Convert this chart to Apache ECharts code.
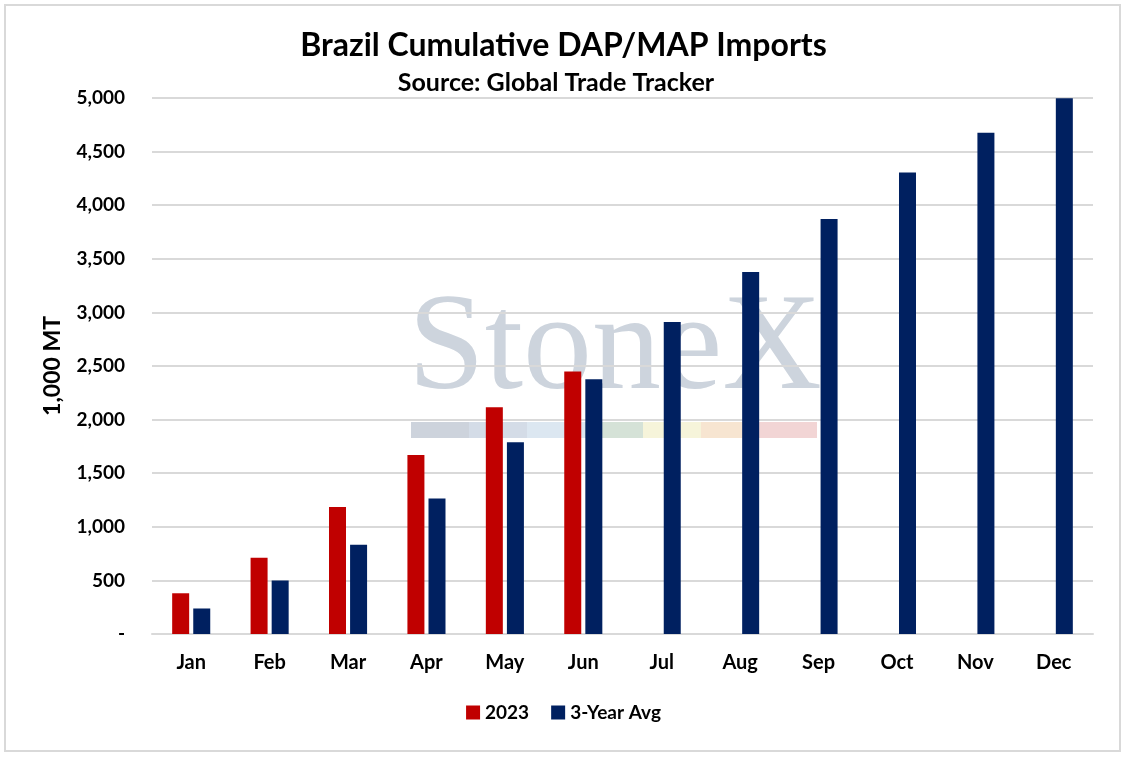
<!DOCTYPE html>
<html>
<head>
<meta charset="utf-8">
<script src="https://cdn.jsdelivr.net/npm/echarts@6/dist/echarts.min.js"></script>
<style>
  html, body { margin: 0; padding: 0; background: #fff; }
  #main { width: 1127px; height: 758px; box-sizing: border-box; }
  #frame { position: absolute; left: 4px; top: 4px; width: 1117px; height: 748px; border: 2px solid #d9d9d9; box-sizing: border-box; pointer-events: none; }
</style>
</head>
<body>
<div id="main"></div>
<div id="frame"></div>
<script>
  // data (1,000 MT)
  var months = ['Jan', 'Feb', 'Mar', 'Apr', 'May', 'Jun', 'Jul', 'Aug', 'Sep', 'Oct', 'Nov', 'Dec'];
  var y2023 = [380, 712, 1184, 1670, 2115, 2448, null, null, null, null, null, null];
  var avg3y = [238, 500, 832, 1265, 1788, 2376, 2911, 3376, 3872, 4306, 4677, 4998];
  var yTicks = [0, 500, 1000, 1500, 2000, 2500, 3000, 3500, 4000, 4500, 5000];

  var font = 'Lato';
  var chart = echarts.init(document.getElementById('main'));

  // watermark strip colours
  var strip = ['#cdd3dc', '#d4dce7', '#dce7f1', '#d5e2d7', '#f6f4da', '#f7e5d1', '#f2d5d5'];
  var wm = [{
    type: 'text', left: 408, top: 283, z: -10,
    style: { text: 'StoneX', font: '138px "Liberation Serif"', fill: '#cdd4dd' }
  }];
  strip.forEach(function (c, i) {
    wm.push({ type: 'rect', z: -10, shape: { x: 411 + i * 58, y: 422, width: 58, height: 16 }, style: { fill: c } });
  });

  var option = {
    animation: false,
    title: [{
      text: 'Brazil Cumulative DAP/MAP Imports',
      left: 'center', top: 25,
      textStyle: { fontFamily: font, fontWeight: 'bold', fontSize: 32, color: '#000' }
    }, {
      text: 'Source: Global Trade Tracker',
      left: 551, top: 65, textAlign: 'center',
      textStyle: { fontFamily: font, fontWeight: 'bold', fontSize: 25, color: '#000' }
    }],
    legend: {
      bottom: 31, left: 'center', itemWidth: 14, itemHeight: 14, itemGap: 22,
      icon: 'rect',
      textStyle: { fontFamily: font, fontWeight: 'bold', fontSize: 19, color: '#000' },
      data: ['2023', '3-Year Avg']
    },
    grid: { left: 152, right: 34, top: 98, bottom: 124 },
    graphic: wm,
    xAxis: {
      type: 'category', data: months,
      axisLine: { lineStyle: { color: '#d9d9d9', width: 2 } },
      axisTick: { show: false },
      axisLabel: { margin: 19, fontFamily: font, fontWeight: 'bold', fontSize: 20, color: '#000' }
    },
    yAxis: {
      type: 'value', min: yTicks[0], max: yTicks[yTicks.length - 1], interval: 500,
      name: '1,000 MT', nameLocation: 'middle', nameGap: 88, nameRotate: 90,
      nameTextStyle: { fontFamily: font, fontWeight: 'bold', fontSize: 23, color: '#000' },
      splitLine: { lineStyle: { color: '#d9d9d9', width: 2 } },
      axisLabel: {
        margin: 27, fontFamily: font, fontWeight: 'bold', fontSize: 19, color: '#000',
        formatter: function (v) { return v === 0 ? '-' : v.toLocaleString('en-US'); }
      }
    },
    series: [
      { name: '2023', type: 'bar', data: y2023, barWidth: 17, barGap: '24%', itemStyle: { color: '#c00000' } },
      { name: '3-Year Avg', type: 'bar', data: avg3y, barWidth: 17, itemStyle: { color: '#002060' } }
    ]
  };
  chart.setOption(option);
</script>
</body>
</html>
